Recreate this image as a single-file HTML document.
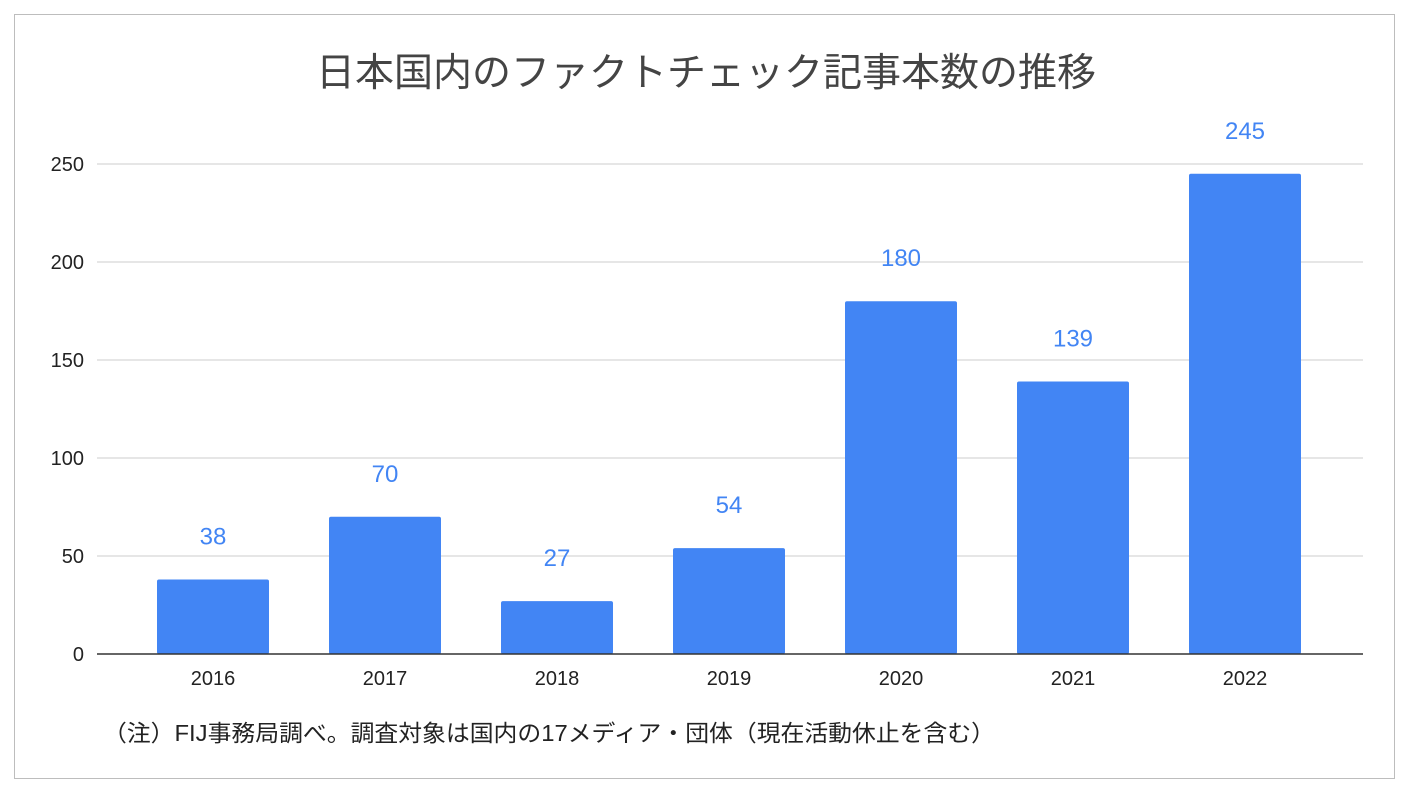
<!DOCTYPE html>
<html><head><meta charset="utf-8"><style>
html,body{margin:0;padding:0;background:#fff;}
body{width:1410px;height:796px;overflow:hidden;position:relative;font-family:"Liberation Sans","Noto Sans CJK JP",sans-serif;}
#frame{position:absolute;left:14px;top:14px;width:1381px;height:765px;border:1px solid #bdbdbd;box-sizing:border-box;}
</style></head><body>
<div id="frame"></div>
<svg id="chart" width="1410" height="796" style="position:absolute;left:0;top:0">
<text x="706" y="86" text-anchor="middle" font-size="39" fill="#444" font-family="Liberation Sans, Noto Sans CJK JP, sans-serif">日本国内のファクトチェック記事本数の推移</text>
<text x="103" y="741" font-size="23" fill="#222" textLength="892" lengthAdjust="spacingAndGlyphs" font-family="Liberation Sans, Noto Sans CJK JP, sans-serif">（注）FIJ事務局調べ。調査対象は国内の17メディア・団体（現在活動休止を含む）</text>
</svg>
<script>
const categories=["2016","2017","2018","2019","2020","2021","2022"];
const values=[38,70,27,54,180,139,245];
const yTicks=[0,50,100,150,200,250];
const svg=document.getElementById('chart');
const NS='http://www.w3.org/2000/svg';
const y=v=>654-v*98/50;
const x=i=>213+i*172;
const barW=112;
function mk(t,a){const e=document.createElementNS(NS,t);for(const k in a)e.setAttribute(k,a[k]);svg.appendChild(e);return e;}
yTicks.forEach(t=>{
  if(t>0){const g=mk('line',{x1:97,x2:1363,y1:y(t),y2:y(t),stroke:'#ccc','stroke-width':1});
  
  }
  const l=mk('text',{x:84,y:y(t)+7,'text-anchor':'end','font-size':20,fill:'#222'});
  l.textContent=t;
  
  
});
values.forEach((v,i)=>{
  const r=mk('rect',{x:x(i)-barW/2,y:y(v),width:barW,height:654-y(v),fill:'#4285f4',rx:2});
  
  
  const t=mk('text',{x:x(i),y:y(v)-35,'text-anchor':'middle','font-size':24,fill:'#4285f4'});
  t.textContent=v;
  
  
  const c=mk('text',{x:x(i),y:685,'text-anchor':'middle','font-size':20,fill:'#222'});
  c.textContent=categories[i];
  
  
});
const ax=mk('line',{x1:97,x2:1363,y1:654,y2:654,stroke:'#333','stroke-width':1.5});


</script>
</body></html>
